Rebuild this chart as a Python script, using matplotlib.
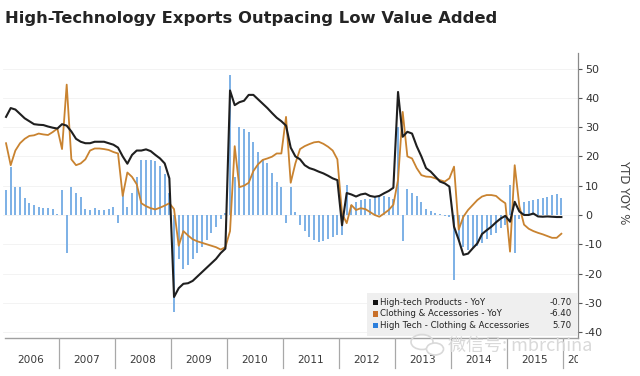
import numpy as np
import matplotlib
matplotlib.use("Agg")
import matplotlib.pyplot as plt
from matplotlib.patches import Rectangle, Ellipse

plt.rcParams['axes.unicode_minus'] = False
plt.rcParams['font.family'] = ['DejaVu Sans']

title = "High-Technology Exports Outpacing Low Value Added"
years = ["2006", "2007", "2008", "2009", "2010", "2011", "2012", "2013", "2014", "2015", "2016"]

# Monthly YTD YoY %, Jan 2006 .. Dec 2015
high_tech = [
    33.5, 36.5, 36, 34.5, 33, 32, 31, 30.8, 30.7, 30.2, 29.8, 29.5,
    31, 30.5, 28.5, 26, 25, 24.5, 24.5, 25, 25, 25, 24.5, 24,
    23, 20, 17.5, 20.5, 22, 22, 22.4, 21.8, 20.5, 19.3, 17.6, 12.5,
    -28, -25, -23.5, -23.3, -22.5, -21, -19.5, -18, -16.5, -15, -13, -11.5,
    42.5, 37.5, 38.5, 39, 41, 41, 39.5, 38, 36.5, 34.8, 33.2, 32,
    30.5, 23, 20, 19, 17, 16, 15.5, 14.8, 14.2, 13.4, 12.5, 11.9,
    -3.5, 7.5, 7, 6.3, 7, 7.3, 6.5, 6.2, 6.5, 7.4, 8.2, 9.3,
    42, 26.7, 28.4, 27.8, 23.5, 20, 16, 14.8, 13.1, 11.4, 10.8, 9.7,
    -4, -8.5, -13.6, -13.2, -11.4, -9.7, -6.5, -5.2, -4, -2.5, -1.2, -0.3,
    -2.3, 4.5, 1.2, 0, 0, 0.5, -0.5, -0.6, -0.5, -0.6, -0.7, -0.7,
]
clothing = [
    24.5, 17, 22, 24.5, 26, 27, 27.2, 27.8, 27.5, 27.3, 28.3, 29.5,
    22.5, 44.5, 19, 17, 17.6, 19, 22, 22.7, 22.7, 22.5, 22.2, 21.5,
    21, 6.5, 14.5, 13, 10.5, 4, 3, 2.3, 1.9, 2.5, 3.2, 4,
    2, -10.5, -5.5, -7, -8.3, -9, -9.5, -10, -10.5, -11, -11.8, -11,
    -5.5, 23.5, 9.5, 10, 11, 15, 17.3, 18.8, 19.3, 19.9, 21, 21,
    33.5, 11, 17.6, 22.5, 23.5, 24.2, 24.8, 25, 24.3, 23.3, 22, 19,
    0.5, -2.8, 3.4, 1.7, 2.3, 2, 1, 0, -0.6, 0.5, 1.7, 3.5,
    12, 35.2, 20, 19.3, 16, 13.6, 13.1, 13, 12.5, 11.9, 11.4, 12.5,
    16.5, -5, -0.6, 1.7, 3.4, 5.1, 6.3, 6.8, 6.8, 6.5, 5.1, 4,
    -12.5, 17, 3, -3.3, -4.7, -5.5, -6.1, -6.6, -7.2, -7.8, -7.8, -6.4,
]
spread = [
    8.5, 16.5, 9.7, 9.7, 5.7, 4.2, 3.4, 2.8, 2.5, 2.5, 1.9, 0.3,
    8.5, -13, 9.4, 7.6, 6, 1.9, 1.7, 2.3, 1.7, 1.7, 1.9, 2.8,
    -2.8, 8, 2.8, 7.4, 13, 18.8, 18.8, 18.8, 18.5, 16.8, 14, 7.5,
    -33, -15, -18.5, -17, -15, -13, -10.8, -8.5, -6.3, -4, -1.3, 0.8,
    47.7, 13, 30, 29.5, 28.4, 25, 21.6, 18.8, 17.6, 14.2, 11.4, 9.7,
    -2.8, 9.5, 1.1, -3.4, -5.5, -7.4, -8.5, -9.1, -8.8, -8.2, -7.6, -6.8,
    -6.8, 10.2, 3.5, 4.5, 5, 5.5, 5.5, 6, 6.5, 6.5, 6, 5.5,
    30, -9, 9, 7.5, 6.5, 4.5, 2, 1.2, 0.8, 0.4, -0.3, -0.6,
    -22.2, -9, -11, -12, -11.4, -10.5, -9.4, -8.2, -7, -6, -4.5, -3.5,
    10.2, -13, -1.5, 4.5, 4.8, 5.1, 5.4, 5.7, 6.3, 6.8, 7.2, 5.7,
]
legend_labels = ["High-tech Products - YoY", "Clothing & Accessories - YoY",
                 "High Tech - Clothing & Accessories"]
legend_values = ["-0.70", "-6.40", "5.70"]
yticks = [-40, -30, -20, -10, 0, 10, 20, 30, 40, 50]

W, H = 640, 376
fig = plt.figure(figsize=(W / 100, H / 100), dpi=100)
fig.patch.set_facecolor("white")

def fx(px):
    return px / W

def fy(py):
    return 1 - py / H

left_px, right_px, top_px, bot_px = 3, 578, 53, 338
px_per_month = 56 / 12.0
xmax = (right_px - left_px) / px_per_month

ax = fig.add_axes([fx(left_px), fy(bot_px), fx(right_px - left_px), (bot_px - top_px) / H])
x = np.arange(len(high_tech)) + 0.65
ax.set_xlim(0, xmax)
ax.set_ylim(-42, 55.3)

for v in yticks:
    ax.axhline(v, color="#f1f1f1", lw=0.6, zorder=0)

ax.bar(x, spread, width=0.38, color="#7fb2e6", zorder=2)
ax.plot(x, clothing, color="#c98330", lw=1.3, zorder=3)
ax.plot(x, high_tech, color="#1f1f1f", lw=1.5, zorder=4)

for s in ["left", "top", "bottom"]:
    ax.spines[s].set_visible(False)
ax.spines["right"].set_color("#8a8a8a")
ax.spines["right"].set_linewidth(0.9)
ax.set_xticks([])
ax.yaxis.tick_right()
ax.set_yticks(yticks)
ax.set_yticklabels([str(v) for v in yticks])
ax.tick_params(axis="y", direction="out", length=3, width=0.8, color="#555555",
               labelsize=8, labelcolor="#333333", pad=2)
ax.set_facecolor("none")

# Y label
fig.text(fx(624), fy(192), "YTD YOY %", rotation=-90, ha="center", va="center",
         fontsize=8.5, color="#444444")

# bottom band with years
bax = fig.add_axes([fx(left_px), 0, fx(right_px - left_px), (H - bot_px) / H])
bax.set_xlim(0, xmax)
bax.set_ylim(0, 1)
bax.axis("off")
bax.plot([0.4, xmax], [1, 1], color="#a0a0a0", lw=1.0, clip_on=False)
band_h = H - bot_px
for k in range(1, len(years)):
    bax.plot([12 * k, 12 * k], [(H - 368) / band_h, 1], color="#a8a8a8", lw=0.9)
for k, yr in enumerate(years):
    xc = 12 * k + 6 if k < len(years) - 1 else 12 * k + 3.8
    bax.text(xc, (H - 360) / band_h, yr, ha="center", va="center",
             fontsize=7.6, color="#3a3a3a", clip_on=True)

# legend box
fig.patches.append(Rectangle((fx(367), fy(336)), fx(577 - 367), (336 - 293) / H,
                             transform=fig.transFigure, facecolor="#efefef",
                             edgecolor="none", zorder=5))
leg_colors = ["#111111", "#c8702a", "#2d7fdc"]
leg_y = [302.5, 314, 325.5]
for lab, val, col, yy in zip(legend_labels, legend_values, leg_colors, leg_y):
    fig.patches.append(Rectangle((fx(372.5), fy(yy + 2.8)), fx(5.5), 5.5 / H,
                                 transform=fig.transFigure, facecolor=col,
                                 edgecolor="none", zorder=6))
    fig.text(fx(380.5), fy(yy), lab, ha="left", va="center", fontsize=6.2,
             color="#222222", zorder=7)
    fig.text(fx(572), fy(yy), val, ha="right", va="center", fontsize=6.2,
             color="#222222", zorder=7)

# title
t = fig.text(fx(5), fy(18), title, ha="left", va="center", fontsize=13,
             fontweight="bold", color="#242424")
fig.canvas.draw()
r = fig.canvas.get_renderer()
wpx = t.get_window_extent(r).width
t.set_fontsize(13 * 487 / wpx)

# watermark (WeChat-style logo + text)
wm_col = "#d9d9d9"
fig.patches.append(Ellipse((fx(422), fy(342)), fx(22), 15 / H, transform=fig.transFigure,
                           facecolor="none", edgecolor=wm_col, lw=1.2, zorder=8))
fig.patches.append(Ellipse((fx(435), fy(349)), fx(17), 12 / H, transform=fig.transFigure,
                           facecolor="white", edgecolor=wm_col, lw=1.2, zorder=8))
fig.text(fx(448), fy(346), "微信号: mbrchina", ha="left", va="center", fontsize=13,
         color=wm_col, family=["Noto Sans CJK SC", "DejaVu Sans"], zorder=8)

fig.savefig("out.png", dpi=100, facecolor="white")
